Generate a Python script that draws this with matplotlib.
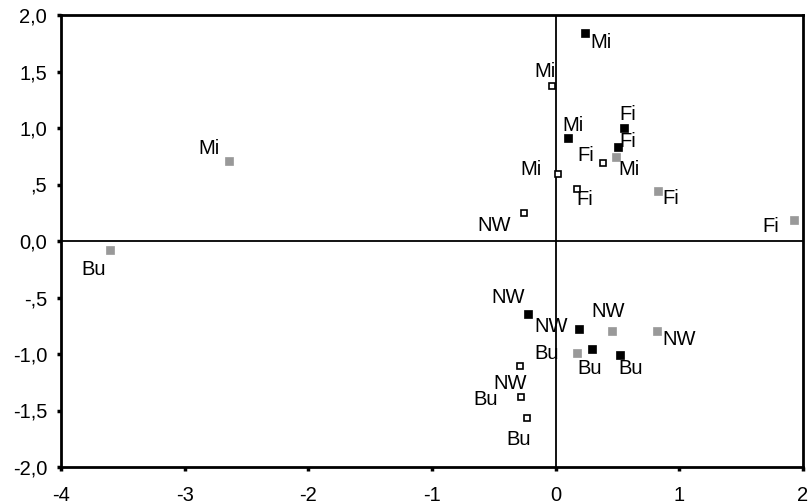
import matplotlib
matplotlib.use("Agg")
import matplotlib.pyplot as plt

plt.rcParams['font.family'] = ['Liberation Sans', 'DejaVu Sans']

# Series: filled black, gray, open squares
black_labels = ["Mi", "Fi", "Fi", "Mi", "NW", "NW", "Bu", "Bu"]
black_x = [0.24, 0.55, 0.50, 0.10, -0.22, 0.19, 0.29, 0.52]
black_y = [1.84, 1.00, 0.83, 0.91, -0.65, -0.78, -0.96, -1.01]

gray_labels = ["Mi", "Bu", "Mi", "Fi", "Fi", "NW", "NW", "Bu"]
gray_x = [-2.64, -3.60, 0.49, 0.83, 1.93, 0.455, 0.82, 0.175]
gray_y = [0.71, -0.08, 0.74, 0.445, 0.19, -0.80, -0.80, -0.99]

open_labels = ["Mi", "Fi", "Mi", "Fi", "NW", "NW", "Bu", "Bu"]
open_x = [-0.03, 0.38, 0.02, 0.17, -0.26, -0.29, -0.28, -0.23]
open_y = [1.37, 0.69, 0.59, 0.46, 0.25, -1.11, -1.38, -1.57]

x_ticks = [-4, -3, -2, -1, 0, 1, 2]
x_ticklabels = ["-4", "-3", "-2", "-1", "0", "1", "2"]
y_ticks = [2.0, 1.5, 1.0, 0.5, 0.0, -0.5, -1.0, -1.5, -2.0]
y_ticklabels = ["2,0", "1,5", "1,0", ",5", "0,0", "-,5", "-1,0", "-1,5", "-2,0"]

# label offsets in pixels (dx right, dy down) for text centre
black_off = [(16, 9), (4, -13), (10, -6), (5, -13), (-20, -17), (-28, -3), (-2, 19), (11, 13)]
gray_off = [(-20, -12), (-17, 19), (13, 12), (12, 8), (-24, 7), (-4, -20), (22, 8), (-31, 1)]
open_off = [(-7, -15), (-17, -8), (-27, -5), (8, 10), (-29, 13), (-10, 17), (-35, 3), (-9, 21)]

DPI = 100
fig = plt.figure(figsize=(8.08, 5.04), dpi=DPI)
ax = fig.add_axes([61 / 808, 37 / 504, 742 / 808, 452 / 504])
ax.set_xlim(-4, 2)
ax.set_ylim(-2, 2)

ax.axhline(0, color='black', lw=1.3, zorder=1)
ax.axvline(0, color='black', lw=1.3, zorder=1)

ms = 5.6
ax.plot(black_x, black_y, 's', color='black', ms=ms, mec='black', mew=0.5, zorder=3)
ax.plot(gray_x, gray_y, 's', color='#999999', ms=ms, mec='#999999', mew=0.5, zorder=3)
ax.plot(open_x, open_y, 's', mfc='white', mec='black', ms=ms - 0.6, mew=1.2, zorder=3)

FS = 14.5
px2pt = 72 / DPI
for labels, xs, ys, offs in [(black_labels, black_x, black_y, black_off),
                             (gray_labels, gray_x, gray_y, gray_off),
                             (open_labels, open_x, open_y, open_off)]:
    for lab, x, y, (dx, dy) in zip(labels, xs, ys, offs):
        ax.annotate(lab, (x, y), xytext=(dx * px2pt, -dy * px2pt), textcoords='offset points',
                    ha='center', va='center', fontsize=FS, color='black', zorder=4)

ax.set_xticks(x_ticks)
ax.set_xticklabels(x_ticklabels)
ax.set_yticks(y_ticks)
ax.set_yticklabels(y_ticklabels)
ax.tick_params(axis='both', direction='out', length=3, width=2.5, labelsize=FS, color='black')
ax.tick_params(axis='y', pad=7)
ax.tick_params(axis='x', pad=11)

for s in ax.spines.values():
    s.set_linewidth(2)
    s.set_color('black')

fig.savefig("out.png", dpi=DPI)
